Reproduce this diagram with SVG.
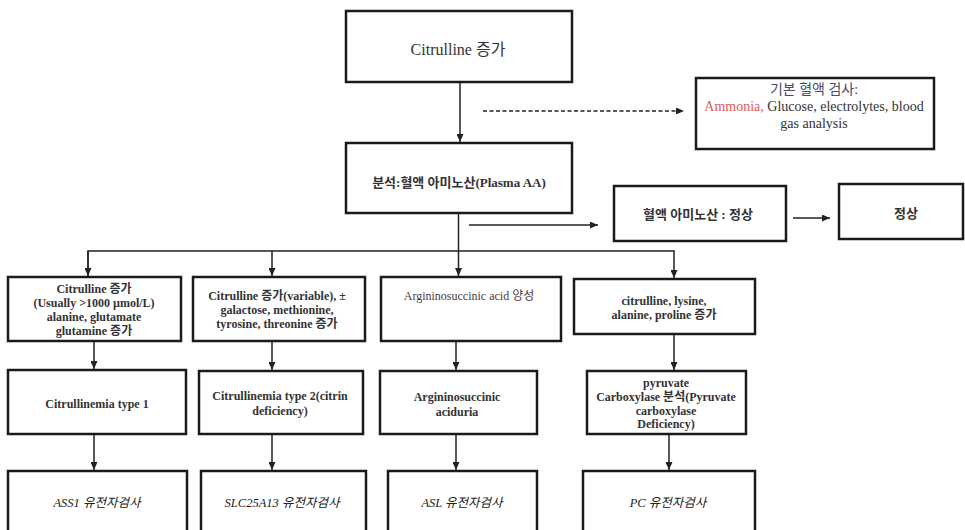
<svg xmlns="http://www.w3.org/2000/svg" width="965" height="530" viewBox="0 0 965 530">
<style>
.box{fill:#fff;stroke:#1a1a1a;stroke-width:2.5}
.t{font-family:"Liberation Serif","Noto Sans CJK KR",serif;fill:#333;text-anchor:middle}
.b{font-weight:bold;font-size:12px}
.r{font-size:12px}
.i{font-style:italic;font-size:12.5px;fill:#222}
.c{stroke:#222;stroke-width:1.5;fill:none}
.d{stroke-dasharray:4 2.5}
</style>
<defs>
<marker id="ah" markerUnits="userSpaceOnUse" markerWidth="8" markerHeight="7" refX="8" refY="3.5" orient="auto">
<path d="M0,0 L8,3.5 L0,7 z" fill="#222"/>
</marker>
</defs>
<rect width="965" height="530" fill="#fff"/>
<g id="connectors">
<line class="c" x1="460" y1="83" x2="460" y2="142" marker-end="url(#ah)"/>
<line class="c d" x1="483" y1="111" x2="684" y2="111" marker-end="url(#ah)"/>
<line class="c" x1="458.5" y1="213" x2="458.5" y2="276" marker-end="url(#ah)"/>
<line class="c" x1="469" y1="225" x2="598" y2="225" marker-end="url(#ah)"/>
<line class="c" x1="793" y1="218" x2="830" y2="218" marker-end="url(#ah)"/>
<polyline class="c" points="88,276 88,251 674,251 674,278" marker-end="url(#ah)"/>
<line class="c" x1="88" y1="251" x2="88" y2="276" marker-end="url(#ah)"/>
<line class="c" x1="272" y1="251" x2="272" y2="276" marker-end="url(#ah)"/>
<line class="c" x1="94" y1="341" x2="94" y2="369" marker-end="url(#ah)"/>
<line class="c" x1="272" y1="341" x2="272" y2="370" marker-end="url(#ah)"/>
<line class="c" x1="456" y1="341" x2="456" y2="370" marker-end="url(#ah)"/>
<line class="c" x1="674" y1="334" x2="674" y2="370" marker-end="url(#ah)"/>
<line class="c" x1="94" y1="434" x2="94" y2="470" marker-end="url(#ah)"/>
<line class="c" x1="272" y1="434" x2="272" y2="470" marker-end="url(#ah)"/>
<line class="c" x1="456" y1="435" x2="456" y2="470" marker-end="url(#ah)"/>
<line class="c" x1="669" y1="434" x2="669" y2="470" marker-end="url(#ah)"/>
</g>
<g id="n_top">
<rect class="box" x="346" y="11" width="226" height="71"/>
<text class="t" x="458" y="55" font-size="16">Citrulline 증가</text>
</g>
<g id="n_plasma">
<rect class="box" x="346" y="143" width="226" height="70"/>
<text class="t" x="459" y="186.5" font-size="13" font-weight="bold">분석:혈액 아미노산(Plasma AA)</text>
</g>
<g id="n_basic">
<rect class="box" x="696" y="78" width="238" height="71"/>
<text class="t" x="814" y="94" font-size="14" style="fill:#4a4a66">기본 혈액 검사:</text>
<text class="t" x="814" y="111" font-size="14"><tspan style="fill:#e05a5a">Ammonia,</tspan> Glucose, electrolytes, blood</text>
<text class="t" x="814" y="128" font-size="14">gas analysis</text>
</g>
<g id="n_normal_aa">
<rect class="box" x="614" y="186" width="172" height="55"/>
<text class="t" x="698" y="218.5" font-size="13" font-weight="bold">혈액 아미노산 : 정상</text>
</g>
<g id="n_normal">
<rect class="box" x="839" y="184" width="124" height="55"/>
<text class="t" x="906" y="217.5" font-size="13" font-weight="bold">정상</text>
</g>
<g id="n_b1">
<rect class="box" x="8" y="277" width="173" height="64"/>
<text class="t b" x="94" y="293">Citrulline 증가</text>
<text class="t b" x="94" y="307">(Usually &gt;1000 µmol/L)</text>
<text class="t b" x="94" y="321">alanine, glutamate</text>
<text class="t b" x="94" y="335">glutamine 증가</text>
</g>
<g id="n_b2">
<rect class="box" x="193" y="277" width="172" height="64"/>
<text class="t b" x="277" y="300">Citrulline 증가(variable), ±</text>
<text class="t b" x="277" y="314">galactose, methionine,</text>
<text class="t b" x="277" y="328">tyrosine, threonine 증가</text>
</g>
<g id="n_b3">
<rect class="box" x="381" y="277" width="180" height="64"/>
<text class="t r" x="469" y="300" style="fill:#4a3a3a">Argininosuccinic acid 양성</text>
</g>
<g id="n_b4">
<rect class="box" x="574" y="279" width="181" height="55"/>
<text class="t b" x="664" y="305">citrulline, lysine,</text>
<text class="t b" x="664" y="319">alanine, proline 증가</text>
</g>
<g id="n_b5">
<rect class="box" x="8" y="370" width="178" height="64"/>
<text class="t b" x="97" y="408">Citrullinemia type 1</text>
</g>
<g id="n_b6">
<rect class="box" x="199" y="371" width="164" height="63"/>
<text class="t b" x="280" y="400">Citrullinemia type 2(citrin</text>
<text class="t b" x="280" y="415">deficiency)</text>
</g>
<g id="n_b7">
<rect class="box" x="380" y="371" width="157" height="63"/>
<text class="t b" x="457" y="401">Argininosuccinic</text>
<text class="t b" x="457" y="416">aciduria</text>
</g>
<g id="n_b8">
<rect class="box" x="587" y="371" width="159" height="63"/>
<text class="t b" x="666" y="387">pyruvate</text>
<text class="t b" x="666" y="401">Carboxylase 분석(Pyruvate</text>
<text class="t b" x="666" y="415">carboxylase</text>
<text class="t b" x="666" y="428">Deficiency)</text>
</g>
<g id="n_b9">
<rect class="box" x="8" y="471" width="179" height="80"/>
<text class="t i" x="97" y="507">ASS1 유전자검사</text>
</g>
<g id="n_b10">
<rect class="box" x="201" y="471" width="165" height="80"/>
<text class="t i" x="282" y="507">SLC25A13 유전자검사</text>
</g>
<g id="n_b11">
<rect class="box" x="388" y="471" width="149" height="80"/>
<text class="t i" x="462" y="507">ASL 유전자검사</text>
</g>
<g id="n_b12">
<rect class="box" x="583" y="471" width="172" height="80"/>
<text class="t i" x="668" y="507">PC 유전자검사</text>
</g>
</svg>
